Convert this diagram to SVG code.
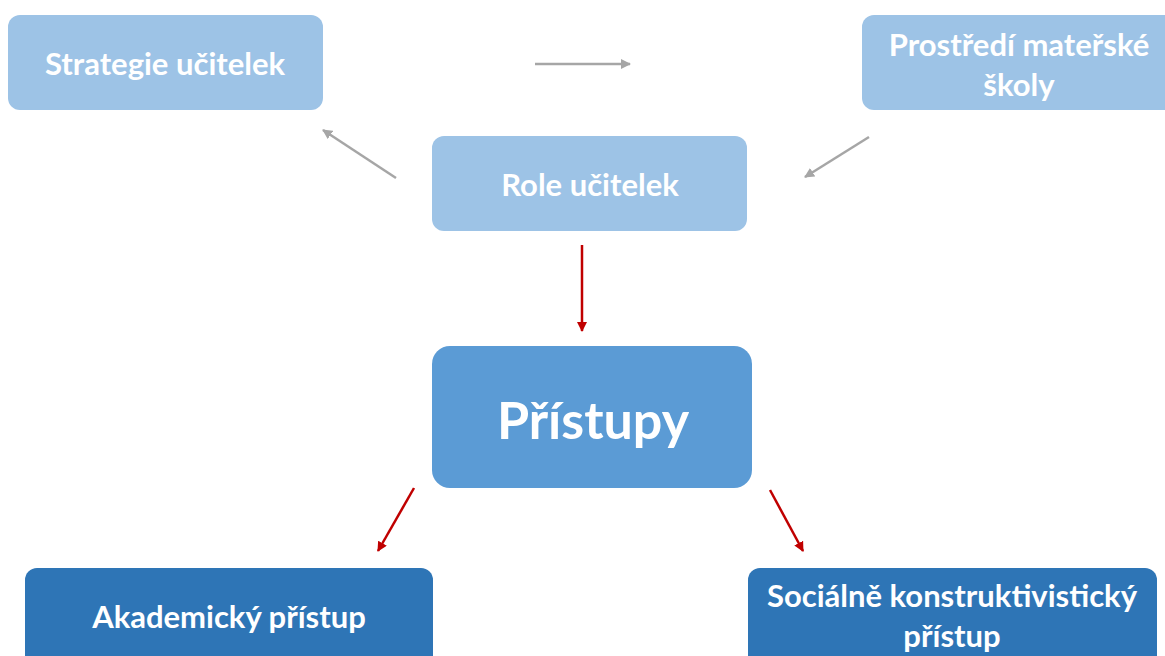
<svg xmlns="http://www.w3.org/2000/svg" width="1165" height="656" viewBox="0 0 1165 656">
<defs>
<style>
.t{font-family:Lato,"Liberation Sans",sans-serif;font-weight:bold;fill:#fff;text-anchor:middle;font-size:31px}
.light{fill:#9dc3e6}
.mid{fill:#5b9bd5}
.dark{fill:#2e75b6}
.g{stroke:#a6a6a6;stroke-width:2.5;fill:none}
.r{stroke:#c00000;stroke-width:2.5;fill:none}
</style>
<marker id="ag" viewBox="0 0 10 10" refX="9" refY="5" markerWidth="4" markerHeight="4" orient="auto" markerUnits="strokeWidth"><path d="M0,0L10,5L0,10z" fill="#a6a6a6"/></marker>
<marker id="ar" viewBox="0 0 10 10" refX="9" refY="5" markerWidth="4" markerHeight="4" orient="auto" markerUnits="strokeWidth"><path d="M0,0L10,5L0,10z" fill="#c00000"/></marker>
</defs>
<rect width="1165" height="656" fill="#fff"/>
<g id="connectors">
<line class="g" x1="535" y1="64" x2="630" y2="64" marker-end="url(#ag)"/>
<line class="g" x1="396" y1="178" x2="323" y2="130" marker-end="url(#ag)"/>
<line class="g" x1="869" y1="137" x2="805" y2="177" marker-end="url(#ag)"/>
<line class="r" x1="582" y1="245" x2="582" y2="331" marker-end="url(#ar)"/>
<line class="r" x1="414" y1="488" x2="378" y2="551" marker-end="url(#ar)"/>
<line class="r" x1="770" y1="490" x2="803" y2="551" marker-end="url(#ar)"/>
</g>
<g id="strategie">
<rect class="light" x="8" y="15" width="315" height="95" rx="12"/>
<text class="t" x="165" y="75">Strategie učitelek</text>
</g>
<g id="prostredi">
<rect class="light" x="862" y="15" width="320" height="95" rx="12"/>
<text class="t" x="1019" y="56">Prostředí mateřské</text>
<text class="t" x="1019" y="96">školy</text>
</g>
<g id="role">
<rect class="light" x="432" y="136" width="315" height="95" rx="12"/>
<text class="t" x="590" y="196">Role učitelek</text>
</g>
<g id="pristupy">
<rect class="mid" x="432" y="346" width="320" height="142" rx="18"/>
<text class="t" x="593" y="439" style="font-size:52px">Přístupy</text>
</g>
<g id="akademicky">
<rect class="dark" x="25" y="568" width="408" height="100" rx="12"/>
<text class="t" x="229" y="628">Akademický přístup</text>
</g>
<g id="socialne">
<rect class="dark" x="748" y="568" width="409" height="100" rx="12"/>
<text class="t" x="952" y="607">Sociálně konstruktivistický</text>
<text class="t" x="952" y="647">přístup</text>
</g>
</svg>
